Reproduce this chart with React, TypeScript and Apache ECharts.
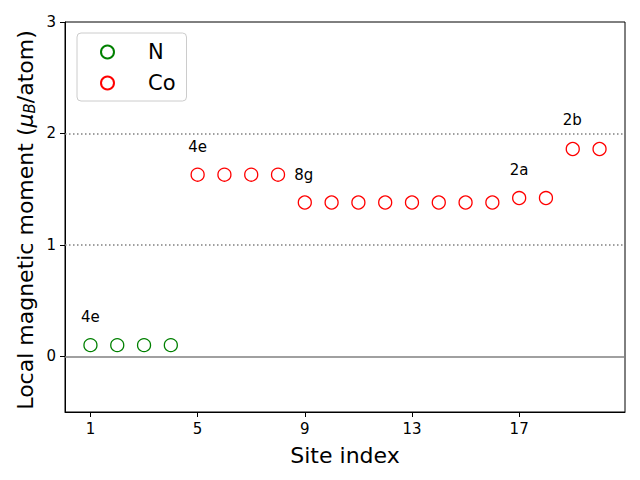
import React, { useEffect, useRef } from "react";
import * as echarts from "echarts";

const nSites = [1, 2, 3, 4];
const nMoments = [0.1, 0.1, 0.1, 0.1];
const coSites = [5, 6, 7, 8, 9, 10, 11, 12, 13, 14, 15, 16, 17, 18, 19, 20];
const coMoments = [1.63, 1.63, 1.63, 1.63, 1.38, 1.38, 1.38, 1.38, 1.38, 1.38, 1.38, 1.38, 1.42, 1.42, 1.86, 1.86];
const xTicks = [1, 5, 9, 13, 17];
const yTicks = [0, 1, 2, 3];
const annotText = ["4e", "4e", "8g", "2a", "2b"];
const annotX = [1.0, 5.0, 8.96, 17.0, 18.98];
const annotY = [0.35, 1.88, 1.63, 1.67, 2.12];
const dottedLevels = [1, 2];

const FONT = "DejaVu Sans";

export default function App() {
  const ref = useRef<HTMLDivElement>(null);
  useEffect(() => {
    if (!ref.current) return;
    const chart = echarts.init(ref.current, undefined, { renderer: "svg" });
    const tickLabel = { fontFamily: FONT, fontSize: 15, color: "#000" };
    chart.setOption({
      animation: false,
      backgroundColor: "#fff",
      grid: {
        left: 65,
        right: 15,
        top: 22,
        bottom: 68,
        show: true,
        borderColor: "#000",
        borderWidth: 1,
        backgroundColor: "transparent",
      },
      legend: {
        data: ["N", "Co"],
        orient: "vertical",
        left: 77,
        top: 33,
        icon: "circle",
        itemWidth: 13,
        itemHeight: 13,
        itemGap: 9,
        padding: [8, 11, 7, 23],
        borderColor: "#cccccc",
        borderWidth: 1,
        borderRadius: 4,
        backgroundColor: "rgba(255,255,255,0.8)",
        textStyle: { fontFamily: FONT, fontSize: 21, lineHeight: 22, color: "#000", padding: [0, 0, 0, 29] },
      },
      graphic: [
        {
          type: "text",
          x: 25,
          y: 220,
          rotation: Math.PI / 2,
          style: {
            text: "Local magnetic moment ({it|μ}{sub|B}/atom)",
            fontFamily: FONT,
            fontSize: 22,
            fill: "#000",
            align: "center",
            verticalAlign: "middle",
            rich: {
              it: { fontFamily: FONT, fontSize: 22, fontStyle: "italic", fill: "#000" },
              sub: { fontFamily: FONT, fontSize: 15, fontStyle: "italic", fill: "#000", verticalAlign: "bottom", padding: [9, 0, 0, 0] },
            },
          },
        },
      ],
      xAxis: {
        type: "value",
        min: 0.05,
        max: 20.95,
        name: "Site index",
        nameLocation: "middle",
        nameGap: 32,
        nameTextStyle: { fontFamily: FONT, fontSize: 22, color: "#000" },
        axisLine: { show: true, onZero: false, lineStyle: { color: "#000", width: 1 } },
        axisTick: { show: true, length: 5, customValues: xTicks, lineStyle: { color: "#000" } },
        axisLabel: { ...tickLabel, margin: 9, customValues: xTicks },
        splitLine: { show: false },
      },
      yAxis: {
        type: "value",
        min: -0.5,
        max: 3,
        axisLine: { show: true, onZero: false, lineStyle: { color: "#000", width: 1 } },
        axisTick: { show: true, length: 5, customValues: yTicks, lineStyle: { color: "#000" } },
        axisLabel: { ...tickLabel, margin: 9, customValues: yTicks },
        splitLine: { show: false },
      },
      series: [
        {
          name: "N",
          type: "scatter",
          symbol: "circle",
          symbolSize: 13,
          data: nSites.map((x, i) => [x, nMoments[i]]),
          itemStyle: { color: "rgba(255,255,255,0)", borderColor: "#008000", borderWidth: 1.3, opacity: 1 },
          z: 5,
          markLine: {
            silent: true,
            symbol: "none",
            label: { show: false },
            data: [
              { yAxis: 0, lineStyle: { color: "#808080", width: 1.5, type: "solid", opacity: 1 } },
              ...dottedLevels.map((v) => ({ yAxis: v, lineStyle: { color: "#808080", width: 1.5, type: [1.5, 2.5], opacity: 1 } })),
            ],
          },
        },
        {
          name: "Co",
          type: "scatter",
          symbol: "circle",
          symbolSize: 13,
          data: coSites.map((x, i) => [x, coMoments[i]]),
          itemStyle: { color: "rgba(255,255,255,0)", borderColor: "#ff0000", borderWidth: 1.3, opacity: 1 },
          z: 5,
        },
        {
          name: "annot",
          type: "scatter",
          symbolSize: 0,
          silent: true,
          itemStyle: { opacity: 1 },
          data: annotText.map((t, i) => ({ value: [annotX[i], annotY[i]], name: t })),
          label: {
            show: true,
            position: "inside",
            formatter: (p: any) => p.name,
            fontFamily: FONT,
            fontSize: 15,
            color: "#000",
          },
        },
      ],
    });
    return () => chart.dispose();
  }, []);
  return <div ref={ref} style={{ width: 640, height: 480, position: "absolute", left: 0, top: 0 }} />;
}
